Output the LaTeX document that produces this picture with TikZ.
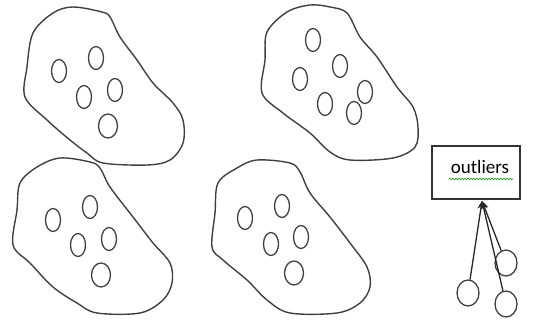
\documentclass[tikz,border=0pt]{standalone}
\usepackage{fontspec}
\setmainfont{Carlito}
\usetikzlibrary{shapes.geometric,arrows.meta,decorations.pathmorphing}
\begin{document}
\begin{tikzpicture}
    [x=1pt,y=-1pt,line width=1.3pt,draw=black!75,
     blob/.style={draw=black!75,line width=1.4pt},
     pebble/.style={ellipse,draw=black!75,line width=1.3pt,minimum width=15pt,minimum height=23pt,inner sep=0pt},
     roundpebble/.style={pebble,minimum width=19pt,minimum height=24pt},
     lone/.style={pebble,minimum width=22pt,minimum height=26pt},
     tag/.style={draw=black!80,line width=1.1pt,minimum width=88pt,minimum height=53pt}]
    \useasboundingbox (0,0) rectangle (534,324);
    %clusters
    \draw[blob] plot[smooth cycle,tension=0.55] coordinates {(33,33) (53,13) (73,7) (102,12) (110,17) (120,37) (137,60) (153,83) (173,103) (183,120) (183,143) (170,160) (147,165) (103,163) (87,153) (70,140) (47,120) (25,97) (27,67)};
    \draw[blob] plot[smooth cycle,tension=0.55] coordinates {(267,32) (287,12) (310,5) (330,7) (347,13) (360,37) (377,57) (397,87) (413,107) (418,127) (415,147) (393,158) (350,160) (330,152) (310,133) (283,113) (262,93) (265,60)};
    \draw[blob] plot[smooth cycle,tension=0.55] coordinates {(20,183) (37,167) (60,158) (90,162) (100,168) (110,187) (133,217) (153,243) (170,263) (172,283) (163,300) (140,313) (97,313) (77,303) (53,287) (30,263) (13,245) (17,210)};
    \draw[blob] plot[smooth cycle,tension=0.55] coordinates {(218,183) (237,168) (257,160) (290,163) (300,172) (310,193) (330,217) (350,243) (367,267) (370,287) (360,303) (337,313) (290,313) (267,300) (247,280) (223,260) (212,247) (215,213)};
    %points in the clusters
    \foreach \x/\y [count=\i] in {59/71,96/58,84/97,115/90}
        \node[pebble] (a\i) at (\x,\y) {};
    \node[roundpebble] (a5) at (108,126) {};
    \foreach \x/\y [count=\i] in {313/40,340/66,300/79,325/104,365/92,354/113}
        \node[pebble] (b\i) at (\x,\y) {};
    \foreach \x/\y [count=\i] in {53/220,90/207,78/245,109/239}
        \node[pebble] (c\i) at (\x,\y) {};
    \node[roundpebble] (c5) at (101,275) {};
    \foreach \x/\y [count=\i] in {245/218,282/206,271/244,301/237}
        \node[pebble] (d\i) at (\x,\y) {};
    \node[roundpebble] (d5) at (294,273) {};
    %outliers
    \node[tag] (box) at (476,172.5) {};
    \node[font=\fontsize{19}{22}\selectfont,inner sep=0pt] (lbl) at (480,167) {outliers};
    \draw[green!60!black,line width=0.6pt,decorate,decoration={snake,amplitude=0.8pt,segment length=3pt}] (449,179) -- (513,179);
    \coordinate (tip) at (482,201);
    \node[lone] (o1) at (468,293) {};
    \node[lone] (o2) at (506,263) {};
    \node[lone] (o3) at (506,304) {};
    \foreach \o in {o1,o2,o3}
        \draw[black!85,-{Stealth[length=8pt,width=7pt]}] (\o) -- (tip);
\end{tikzpicture}
\end{document}
